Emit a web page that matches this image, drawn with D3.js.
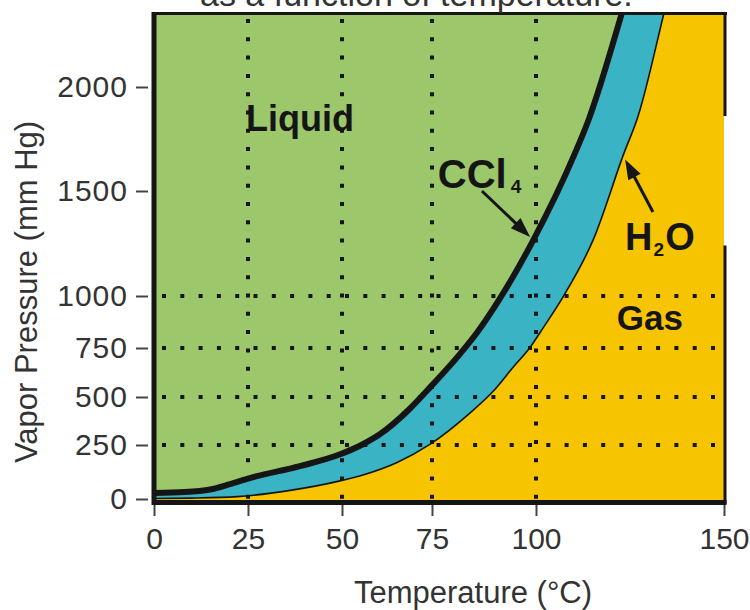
<!DOCTYPE html>
<html><head><meta charset="utf-8">
<script src="https://cdn.jsdelivr.net/npm/d3@7"></script>
<style>body{margin:0;background:#fff}svg{display:block}</style>
</head><body>
<svg id="c" width="750" height="610"></svg>
<script>
// ---- data ----
const xTicks = [0, 25, 50, 75, 100, 150];
const yTicks = [0, 250, 500, 750, 1000, 1500, 2000];
const xGridValues = [25, 50, 75, 100];
const yGridValues = [250, 500, 750, 1000];
const ccl4Temp     = [0, 8.2, 14.9, 20.2, 25.5, 38.8, 49.5, 55.8, 60.6, 68.9, 74.4, 81.7, 85.8, 91.3, 99, 110.4, 113.8, 122.6, 124.9];
const ccl4Pressure = [28, 32, 44, 69, 97, 152, 207, 254, 307, 440, 548, 719, 823, 987, 1253, 1683, 1833, 2335, 2477];
const h2oTemp      = [0, 9.6, 22.1, 36.2, 49.5, 55.8, 65.3, 74.4, 84.1, 89.7, 94.5, 98.6, 101.9, 107.2, 115.2, 123.4, 127.1, 133.8, 135.6];
const h2oPressure  = [2, 4, 11, 40, 84, 111, 169, 253, 416, 529, 652, 754, 847, 996, 1267, 1682, 1857, 2332, 2463];
const titleText = "as a function of temperature.";

// ---- scales (the original axis is hand-drawn, slightly irregular) ----
const x = d3.scaleLinear().domain([0, 25, 50, 75, 100, 150]).range([154, 248, 342, 432, 536, 724]);
const y = d3.scaleLinear().domain([0, 250, 500, 750, 1000, 1500, 2000, 2340]).range([499, 445, 397, 348, 296, 191, 87, 15]);
const xMax = 150, yMax = 2340;

const svg = d3.select("#c");
const FONT = "'Liberation Sans', Arial, Helvetica, sans-serif";
const GREEN = "#9cc76a", BLUE = "#3ab3c4", YELLOW = "#f6c400", INK = "#151515";

svg.append("defs").append("clipPath").attr("id", "plotclip")
  .append("rect").attr("x", x(0)).attr("y", y(yMax)).attr("width", x(xMax) - x(0)).attr("height", y(0) - y(yMax) + 3);

const g = svg.append("g").attr("clip-path", "url(#plotclip)");
g.append("rect").attr("x", x(0)).attr("y", y(yMax)).attr("width", x(xMax) - x(0)).attr("height", y(0) - y(yMax) + 3).attr("fill", GREEN);

const line = d3.line().x(d => x(d[0])).y(d => y(d[1])).curve(d3.curveMonotoneX);
const ccl4 = ccl4Temp.map((t, i) => [t, ccl4Pressure[i]]);
const h2o = h2oTemp.map((t, i) => [t, h2oPressure[i]]);
const close = `L${x(xMax) + 30},${y(2500)}L${x(xMax) + 30},${y(0) + 30}L${x(0) - 30},${y(0) + 30}Z`;

g.append("path").attr("d", line(ccl4) + close).attr("fill", BLUE);
g.append("path").attr("d", line(h2o) + close).attr("fill", YELLOW);

// dotted grid
g.selectAll("line.vg").data(xGridValues).join("line")
  .attr("x1", d => x(d)).attr("x2", d => x(d)).attr("y1", y(yMax) + 4).attr("y2", y(0))
  .attr("stroke", INK).attr("stroke-width", 4).attr("stroke-dasharray", "4,14.3");
g.selectAll("line.hg").data(yGridValues).join("line")
  .attr("x1", x(0) + 8).attr("x2", x(xMax)).attr("y1", d => y(d)).attr("y2", d => y(d))
  .attr("stroke", INK).attr("stroke-width", 4).attr("stroke-dasharray", "4,14.3");

// curves
g.append("path").attr("d", line(h2o)).attr("fill", "none").attr("stroke", INK).attr("stroke-width", 1.6);
g.append("path").attr("d", line(ccl4)).attr("fill", "none").attr("stroke", INK).attr("stroke-width", 6).attr("stroke-linejoin", "round");

// frame
const fr = svg.append("g").attr("stroke", INK);
fr.append("line").attr("x1", x(0) - 2).attr("x2", x(xMax) + 3).attr("y1", y(yMax) - 1.5).attr("y2", y(yMax) - 1.5).attr("stroke-width", 3);
fr.append("line").attr("x1", x(xMax) + 1).attr("x2", x(xMax) + 1).attr("y1", y(yMax) - 3).attr("y2", y(1860)).attr("stroke-width", 3);
fr.append("line").attr("x1", x(xMax) + 1).attr("x2", x(xMax) + 1).attr("y1", y(1240)).attr("y2", y(0) + 5).attr("stroke-width", 3);
fr.append("line").attr("x1", x(0)).attr("x2", x(0)).attr("y1", y(yMax) - 3).attr("y2", y(0) + 6).attr("stroke-width", 5);
fr.append("line").attr("x1", x(0) - 2).attr("x2", x(xMax) + 2.5).attr("y1", y(0) + 3.5).attr("y2", y(0) + 3.5).attr("stroke-width", 5);

// axes
const yAxis = svg.append("g").attr("transform", `translate(${x(0) - 6},0)`)
  .call(d3.axisLeft(y).tickValues(yTicks).tickSize(12).tickPadding(8).tickFormat(d3.format("d")));
const xAxis = svg.append("g").attr("transform", `translate(0,${y(0) + 6})`)
  .call(d3.axisBottom(x).tickValues(xTicks).tickSize(11).tickPadding(12).tickFormat(d3.format("d")));
[yAxis, xAxis].forEach(a => {
  a.select(".domain").remove();
  a.selectAll(".tick line").attr("stroke", "#444").attr("stroke-width", 2);
  a.selectAll(".tick text").attr("font-family", FONT).attr("font-size", 30).attr("fill", "#333");
});
yAxis.selectAll(".tick text").attr("letter-spacing", 1);

// axis titles
svg.append("text").attr("transform", `translate(37,292) rotate(-90)`).attr("text-anchor", "middle")
  .attr("font-family", FONT).attr("font-size", 31).attr("fill", "#333").text("Vapor Pressure (mm Hg)");
svg.append("text").attr("x", 473).attr("y", 603).attr("text-anchor", "middle")
  .attr("font-family", FONT).attr("font-size", 31).attr("fill", "#333").text("Temperature (°C)");

// cut-off title at the very top (as in the original, only its lower part shows)
svg.append("text").attr("x", 200).attr("y", 6).attr("font-family", FONT).attr("font-size", 34).attr("fill", "#333").text(titleText);

// region / curve labels (positions in data units)
const lab = svg.append("g").attr("font-family", FONT).attr("font-weight", "bold").attr("fill", INK);
lab.append("text").attr("x", x(24.5)).attr("y", y(1788)).attr("font-size", 36).text("Liquid");
const tc = lab.append("text").attr("x", x(76.4)).attr("y", y(1514)).attr("font-size", 40);
tc.append("tspan").text("CCl");
tc.append("tspan").attr("font-size", 19).attr("dx", 4).attr("dy", 5).text("4");
const th = lab.append("text").attr("x", x(123.7)).attr("y", y(1219)).attr("font-size", 38);
th.append("tspan").text("H");
th.append("tspan").attr("font-size", 19).attr("dx", 1).attr("dy", 6).text("2");
th.append("tspan").attr("dx", 1).attr("dy", -6).text("O");
lab.append("text").attr("x", x(121.5)).attr("y", y(837)).attr("font-size", 35).text("Gas");

// arrows
function arrow(t0, p0, t1, p1) {
  const x0 = x(t0), y0 = y(p0), x1 = x(t1), y1 = y(p1);
  const a = Math.atan2(y1 - y0, x1 - x0), L = 20, W = 7;
  const bx = x1 - L * Math.cos(a), by = y1 - L * Math.sin(a);
  svg.append("line").attr("x1", x0).attr("y1", y0).attr("x2", bx + 2 * Math.cos(a)).attr("y2", by + 2 * Math.sin(a))
    .attr("stroke", INK).attr("stroke-width", 3);
  const px = -Math.sin(a), py = Math.cos(a);
  svg.append("path").attr("d", `M${x1},${y1}L${bx + W * px},${by + W * py}L${bx - W * px},${by - W * py}Z`).attr("fill", INK);
}
arrow(87.0, 1500, 98.6, 1281);
arrow(131.1, 1400, 123.7, 1652);
</script>
</body></html>
